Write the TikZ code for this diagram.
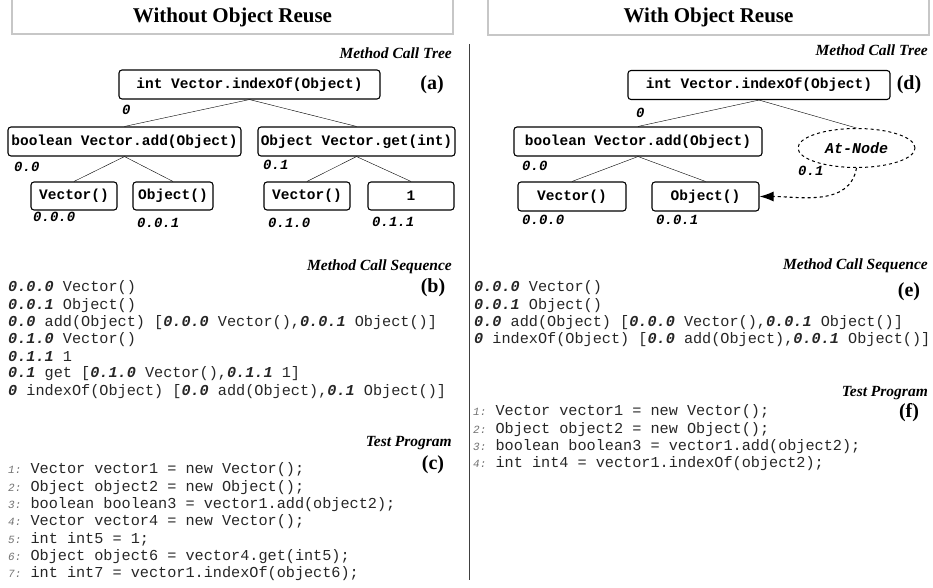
\documentclass[tikz,border=0pt]{standalone}
\usepackage{fontspec}
\setmainfont{Liberation Serif}
\setmonofont{Liberation Mono}
\usetikzlibrary{arrows.meta,shapes.geometric}
\newcommand{\ix}[1]{\textbf{\textit{#1}}}
\newcommand{\lno}[1]{{\fontsize{11}{11}\selectfont\color{black!55}\textit{#1:}} }
\begin{document}
\begin{tikzpicture}[x=1pt,y=-1pt,
    headbox/.style={draw=black!22, line width=1.8pt},
    headtext/.style={font=\bfseries\fontsize{21}{21}\selectfont},
    part/.style={anchor=east, inner sep=0pt, font=\bfseries\itshape\fontsize{15.5}{16}\selectfont},
    tag/.style={font=\bfseries\fontsize{20}{20}\selectfont},
    callbox/.style={draw, rounded corners=3pt, line width=1.1pt, minimum height=29pt, inner sep=0pt,
      font=\ttfamily\bfseries\fontsize{14.5}{14.5}\selectfont},
    idx/.style={anchor=west, inner sep=0pt, font=\ttfamily\bfseries\itshape\fontsize{14}{14}\selectfont},
    code/.style={anchor=west, inner sep=0pt, text=black!85, font=\ttfamily\fontsize{15.2}{15.2}\selectfont}]
  \useasboundingbox (0,0) rectangle (933,588);
  % headings and divider
  \draw[headbox] (12,-5) rectangle (453,34);
  \node[headtext] (hdL) at (232.5,17) {Without Object Reuse};
  \draw[headbox] (488,-5) rectangle (929,35);
  \node[headtext] (hdR) at (708.5,17) {With Object Reuse};
  \draw[line width=1.4pt, black!75] (469.5,44) -- (469.5,580);

  % (a) method call tree without reuse
  \node[part] (ttL) at (452,53) {Method Call Tree};
  \node[tag] (a) at (432,85) {(a)};
  \node[callbox, minimum width=261pt] (rootL) at (249.5,84.5) {int Vector.indexOf(Object)};
  \node[callbox, minimum width=233pt] (addL) at (124.5,141.5) {boolean Vector.add(Object)};
  \node[callbox, minimum width=197pt] (getL) at (356.5,141.5) {Object Vector.get(int)};
  \node[callbox, minimum width=86pt, minimum height=28pt] (vecL) at (74,196) {Vector()};
  \node[callbox, minimum width=80pt, minimum height=28pt] (objL) at (173,196) {Object()};
  \node[callbox, minimum width=86pt, minimum height=28pt] (vecG) at (307,196) {Vector()};
  \node[callbox, minimum width=86pt, minimum height=28pt] (oneG) at (411,196) {1};
  \draw (rootL.south) -- (addL.north);
  \draw (rootL.south) -- (getL.north);
  \draw (addL.south) -- (vecL.north);
  \draw (addL.south) -- (objL.north);
  \draw (getL.south) -- (vecG.north);
  \draw (getL.south) -- (oneG.north);
  \node[idx] (iL0) at (122,110) {0};
  \node[idx] (iL00) at (14,167) {0.0};
  \node[idx] (iL01) at (263,165) {0.1};
  \node[idx] (iL000) at (33,217) {0.0.0};
  \node[idx] (iL001) at (137,223) {0.0.1};
  \node[idx] (iL010) at (268,223) {0.1.0};
  \node[idx] (iL011) at (372,222) {0.1.1};

  % (d) method call tree with reuse
  \node[part] (ttR) at (928,50) {Method Call Tree};
  \node[tag] (d) at (909,85) {(d)};
  \node[callbox, minimum width=262pt] (rootR) at (759,85) {int Vector.indexOf(Object)};
  \node[callbox, minimum width=248pt] (addR) at (638,141.5) {boolean Vector.add(Object)};
  \node[draw, dashed, ellipse, line width=1pt, minimum width=117pt, minimum height=39pt, inner sep=0pt,
    font=\ttfamily\bfseries\itshape\fontsize{15}{15}\selectfont] (atR) at (856.5,148) {At-Node};
  \node[callbox, minimum width=108pt] (vecR) at (572,196.5) {Vector()};
  \node[callbox, minimum width=107pt] (objR) at (705.5,196.5) {Object()};
  \draw (rootR.south) -- (addR.north);
  \draw (rootR.south) -- (atR.north);
  \draw (addR.south) -- (vecR.north);
  \draw (addR.south) -- (objR.north);
  \draw[dashed, line width=1.1pt, -{Latex[length=14pt,width=10pt]}] (atR.south) to[out=-100,in=0] (objR.east);
  \node[idx] (iR0) at (636,113) {0};
  \node[idx] (iR00) at (522,166) {0.0};
  \node[idx] (iR01) at (798,171) {0.1};
  \node[idx] (iR000) at (522,220) {0.0.0};
  \node[idx] (iR001) at (656,220) {0.0.1};

  % (b) method call sequence
  \node[part] (sqL) at (452,267) {Method Call Sequence};
  \node[tag] (b) at (433,288) {(b)};
  \node[code] (bL1) at (8,288) {\ix{0.0.0} Vector()};
  \node[code] (bL2) at (8,305.2) {\ix{0.0.1} Object()};
  \node[code] (bL3) at (8,322.4) {\ix{0.0} add(Object) [\ix{0.0.0} Vector(),\ix{0.0.1} Object()]};
  \node[code] (bL4) at (8,339.6) {\ix{0.1.0} Vector()};
  \node[code] (bL5) at (8,356.8) {\ix{0.1.1} 1};
  \node[code] (bL6) at (8,374) {\ix{0.1} get [\ix{0.1.0} Vector(),\ix{0.1.1} 1]};
  \node[code] (bL7) at (8,391.2) {\ix{0} indexOf(Object) [\ix{0.0} add(Object),\ix{0.1} Object()]};

  % (e) method call sequence with reuse
  \node[part] (sqR) at (928,266) {Method Call Sequence};
  \node[tag] (e) at (909,292) {(e)};
  \node[code] (eR1) at (474,288) {\ix{0.0.0} Vector()};
  \node[code] (eR2) at (474,305.2) {\ix{0.0.1} Object()};
  \node[code] (eR3) at (474,322.4) {\ix{0.0} add(Object) [\ix{0.0.0} Vector(),\ix{0.0.1} Object()]};
  \node[code] (eR4) at (474,339.6) {\ix{0} indexOf(Object) [\ix{0.0} add(Object),\ix{0.0.1} Object()]};

  % (c) test program
  \node[part] (tpL) at (452,443) {Test Program};
  \node[tag] (c) at (433,465) {(c)};
  \node[code] (cL1) at (8,470) {\lno{1}Vector vector1 = new Vector();};
  \node[code] (cL2) at (8,487.3) {\lno{2}Object object2 = new Object();};
  \node[code] (cL3) at (8,504.6) {\lno{3}boolean boolean3 = vector1.add(object2);};
  \node[code] (cL4) at (8,521.9) {\lno{4}Vector vector4 = new Vector();};
  \node[code] (cL5) at (8,539.2) {\lno{5}int int5 = 1;};
  \node[code] (cL6) at (8,556.5) {\lno{6}Object object6 = vector4.get(int5);};
  \node[code] (cL7) at (8,573.8) {\lno{7}int int7 = vector1.indexOf(object6);};

  % (f) test program with reuse
  \node[part] (tpR) at (928,393) {Test Program};
  \node[tag] (f) at (909,413) {(f)};
  \node[code] (fR1) at (473,412) {\lno{1}Vector vector1 = new Vector();};
  \node[code] (fR2) at (473,429.3) {\lno{2}Object object2 = new Object();};
  \node[code] (fR3) at (473,446.6) {\lno{3}boolean boolean3 = vector1.add(object2);};
  \node[code] (fR4) at (473,463.9) {\lno{4}int int4 = vector1.indexOf(object2);};
\end{tikzpicture}
\end{document}
